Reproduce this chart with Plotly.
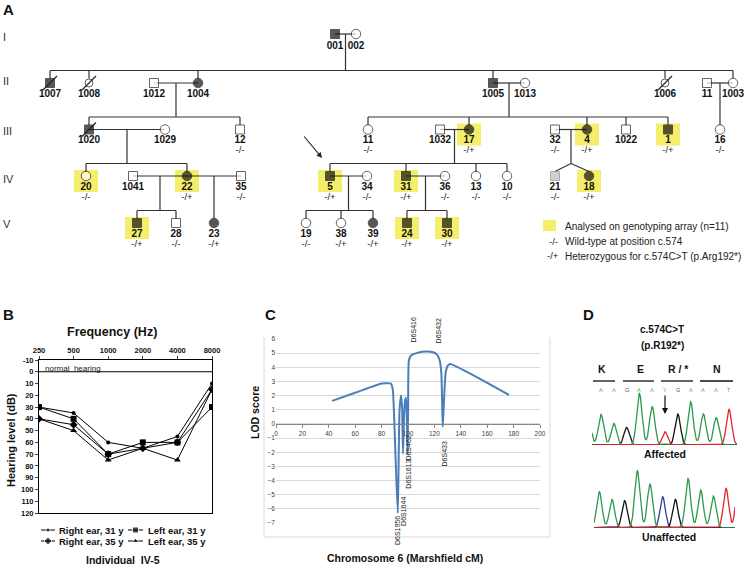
import numpy as np
import plotly.graph_objects as go

W, H = 749, 566
FONT = "Liberation Sans, Arial, sans-serif"

# ================= Panel A : pedigree data =================
ped_key = ["001", "002",
           "1007", "1008", "1012", "1004", "1005", "1013", "1006", "II-11", "1003",
           "1020", "1029", "12", "III-11", "1032", "17", "32", "4", "1022", "1", "16",
           "20", "1041", "22", "35", "5", "34", "31", "36", "13", "10", "21", "18",
           "27", "28", "23", "19", "38", "39", "24", "30"]
ped_label = [k.split("-")[-1] for k in ped_key]
ped_gen = [1] * 2 + [2] * 9 + [3] * 11 + [4] * 12 + [5] * 8
ped_x = [335, 356,
         50, 89, 154, 198, 493, 525, 665, 707, 733,
         89, 165, 240, 368, 440, 469, 555, 587, 626, 668, 720,
         86, 133, 187, 241, 330, 367, 406, 445, 476, 507, 555, 589,
         137, 176, 214, 306, 341, 373, 407, 447]
ped_sex = ["M", "F",
           "M", "F", "M", "F", "M", "F", "F", "M", "F",
           "M", "F", "M", "F", "M", "F", "M", "F", "M", "M", "F",
           "F", "M", "F", "M", "M", "F", "M", "F", "F", "F", "M", "F",
           "M", "M", "F", "F", "F", "F", "M", "M"]
ped_status = ["A", "N",
              "A", "N", "N", "A", "A", "N", "N", "N", "N",
              "A", "N", "N", "N", "N", "A", "N", "A", "N", "A", "N",
              "N", "N", "A", "N", "A", "N", "A", "N", "N", "N", "G", "A",
              "A", "N", "A", "N", "N", "A", "A", "A"]
ped_geno = ["", "",
            "", "", "", "", "", "", "", "", "",
            "", "", "-/-", "-/-", "", "-/+", "-/-", "-/+", "", "-/+", "-/-",
            "-/-", "", "-/+", "-/-", "-/+", "-/-", "-/+", "-/-", "-/-", "-/-", "-/-", "-/+",
            "-/+", "-/-", "-/+", "-/-", "-/+", "-/+", "-/+", "-/+"]
ped_genotyped = ["20", "22", "27", "5", "31", "24", "30", "17", "4", "1", "18"]
ped_deceased = ["1007", "1008", "1020", "1006"]
families = [
    ("001", "002", ["1007", "1008", "1004", "1005", "1006", "1003"], False),
    ("1012", "1004", ["1020", "12"], False),
    ("1005", "1013", ["III-11", "17", "4", "1022", "1"], False),
    ("II-11", "1003", ["16"], False),
    ("1020", "1029", ["20", "22"], False),
    ("1032", "17", ["5", "31", "13", "10"], False),
    ("32", "4", ["21", "18"], True),
    ("1041", "22", ["27", "28"], False),
    ("22", "35", ["23"], False),
    ("5", "34", ["19", "38", "39"], False),
    ("31", "36", ["24", "30"], False),
]
gen_names = ["I", "II", "III", "IV", "V"]

# ================= Panel B : audiogram =================
freq = [250, 500, 1000, 2000, 4000, 8000]
right_31 = [30, 35, 60, 65, 55, 10]
left_31 = [30, 40, 70, 60, 60, 30]
right_35 = [40, 45, 70, 65, 60, 15]
left_35 = [40, 50, 75, 65, 75, 15]
hl_ticks = list(range(-10, 121, 10))

# ================= Panel C : LOD =================
lod_cm = [42.5, 60, 80, 84, 87, 88.5, 89.5, 91, 92.3, 93, 93.6, 94.7, 95.5, 96.2, 97,
          97.7, 98.5, 99.1, 99.6, 100.1, 100.7, 102.5, 107, 114, 119, 122, 124, 125.3,
          126.3, 127.2, 128.5, 130, 131.8, 176.5]
lod_score = [1.63, 2.2, 2.85, 2.88, 2.85, 2.4, 0.5, -3.5, -6.3, -2.0, 1.0, 2.0, 1.2, -2.1, 0.5,
             1.6, 1.85, 0.5, -2.1, 1.0, 4.5, 4.85, 5.02, 5.11, 5.06, 4.9, 4.5, 3.5,
             -0.2, 1.5, 3.6, 4.1, 4.24, 2.05]
marker_names = ["D6S1956", "D6S1644", "D6S1613", "D6S462", "D6S416", "D6S432", "D6S433"]
marker_cm = [91.7, 96.0, 100.2, 100.2, 103.8, 122.7, 127.3]
marker_lod = [-6.4, -5.0, -2.4, -0.7, 5.58, 5.58, -1.13]
marker_side = ["below", "below", "below", "below", "above", "above", "below"]

# ================= Panel D : chromatograms =================
aff_calls = ["A", "A", "G", "A", "A", "Y", "G", "A", "A", "A", "T"]
aff_base = ["A", "A", "G", "A", "A", "T", "G", "A", "A", "A", "T"]
aff_height = [92, 65, 53, 155, 115, 40, 93, 130, 93, 82, 107]
unaff_calls = ["A", "A", "G", "A", "A", "C", "G", "A", "A", "A", "T"]
unaff_height = [108, 85, 81, 171, 131, 93, 85, 148, 113, 95, 118]
aff_edge = [("A", -1.0, 100)]
unaff_edge = [("T", 11.0, 160)]
codons = ["K", "E", "R / *", "N"]

fig = go.Figure()

# ---------- pedigree drawing ----------
gen_y = {1: 34, 2: 83, 3: 129.5, 4: 176, 5: 223}
P = {k: (x, gen_y[g]) for k, x, g in zip(ped_key, ped_x, ped_gen)}
R = 4.5
lx, ly = [], []


def seg(a, b, c, d):
    lx.extend([a, c, None])
    ly.extend([b, d, None])


for fa, mo, kids, twin in families:
    (xf, yf), (xm, ym) = P[fa], P[mo]
    seg(xf, yf, xm, ym)
    xd = (xf + xm) / 2
    cy = P[kids[0]][1]
    sy = cy - 12.5
    if len(kids) == 1:
        seg(xd, yf, xd, cy - R)
    elif twin:
        seg(xd, yf, xd, sy)
        for k in kids:
            seg(xd, sy, P[k][0], cy - R)
    else:
        seg(xd, yf, xd, sy)
        xs_ = [P[k][0] for k in kids] + [xd]
        seg(min(xs_), sy, max(xs_), sy)
        for k in kids:
            seg(P[k][0], sy, P[k][0], cy - R)

shapes = []
for k in ped_genotyped:
    x, y = P[k]
    shapes.append(dict(type="rect", xref="x", yref="y", x0=x - 12, x1=x + 12, y0=y - 6, y1=y + 16,
                       fillcolor="#f4ee6c", line=dict(width=0), layer="below"))

fig.add_trace(go.Scatter(x=lx, y=ly, mode="lines", line=dict(color="#333", width=1.2),
                         hoverinfo="skip", xaxis="x", yaxis="y"))

fillmap = {"A": "#111111", "N": "white", "G": "#bdbdbd"}
linemap = {"A": "#111111", "N": "#222222", "G": "#8a8a8a"}
for sex, sym, size in [("M", "square", 9), ("F", "circle", 9.5)]:
    idx = [i for i in range(len(ped_key)) if ped_sex[i] == sex]
    fig.add_trace(go.Scatter(
        x=[ped_x[i] for i in idx], y=[gen_y[ped_gen[i]] for i in idx], mode="markers",
        marker=dict(symbol=sym, size=[8 if ped_key[i] in ("1008", "1006") else size for i in idx],
                    color=[fillmap[ped_status[i]] for i in idx],
                    line=dict(color=[linemap[ped_status[i]] for i in idx], width=1)),
        hoverinfo="skip", xaxis="x", yaxis="y"))
fig.add_trace(go.Scatter(
    x=[P[k][0] for k in ped_deceased], y=[P[k][1] for k in ped_deceased], mode="markers",
    marker=dict(symbol="line-ne", size=14, line=dict(color="#222", width=1.2)),
    hoverinfo="skip", xaxis="x", yaxis="y"))
# id labels
fig.add_trace(go.Scatter(
    x=ped_x, y=[gen_y[g] + (12.5 if g == 1 else 11) for g in ped_gen], mode="text", text=ped_label,
    textfont=dict(family=FONT, size=10, color="#111"), textposition="middle center",
    texttemplate="<b>%{text}</b>", hoverinfo="skip", xaxis="x", yaxis="y"))
fig.add_trace(go.Scatter(
    x=ped_x, y=[gen_y[g] + 21.5 for g in ped_gen], mode="text", text=ped_geno,
    textfont=dict(family=FONT, size=9.5, color="#222"), textposition="middle center",
    hoverinfo="skip", xaxis="x", yaxis="y"))
fig.add_trace(go.Scatter(
    x=[3] * 5, y=[38, 82, 132, 180, 225], mode="text", text=gen_names,
    textfont=dict(family=FONT, size=11, color="#333"), textposition="middle right",
    hoverinfo="skip", xaxis="x", yaxis="y"))

ann = []


def txt(x, y, s, size=10, bold=False, xanchor="center", color="#111", angle=0, xref="x", yref="y",
        yanchor="middle"):
    ann.append(dict(x=x, y=y, xref=xref, yref=yref, text=f"<b>{s}</b>" if bold else s,
                    showarrow=False, xanchor=xanchor, yanchor=yanchor, textangle=angle,
                    font=dict(family=FONT, size=size, color=color)))


txt(8, 9, "A", 15, True)
txt(8, 314, "B", 15, True)
txt(270, 314, "C", 15, True)
txt(588, 314, "D", 15, True)

# proband arrow
ann.append(dict(x=322, y=158, ax=303, ay=135, xref="x", yref="y", axref="x", ayref="y",
                showarrow=True, arrowhead=2, arrowsize=1, arrowwidth=1.1, arrowcolor="#222", text=""))

# legend for A
shapes.append(dict(type="rect", xref="x", yref="y", x0=543, x1=556, y0=220, y1=231,
                   fillcolor="#f4ee6c", line=dict(width=0)))
txt(563, 226, "Analysed on genotyping array (n=11)", 10, xanchor="left", color="#222")
txt(547, 241, "-/-", 9.5, xanchor="left", color="#222")
txt(563, 241, "Wild-type at position c.574", 10, xanchor="left", color="#222")
txt(545, 255, "-/+", 9.5, xanchor="left", color="#222")
txt(563, 256, "Heterozygous for c.574C>T (p.Arg192*)", 10, xanchor="left", color="#222")

# ---------- Panel B ----------
b_series = [("Right ear, 31 y", right_31, "circle", 4),
            ("Left ear, 31 y", left_31, "square", 6),
            ("Right ear, 35 y", right_35, "diamond", 6),
            ("Left ear, 35 y", left_35, "triangle-up", 6)]
for name, vals, sym, sz in b_series:
    fig.add_trace(go.Scatter(x=freq, y=vals, name=name, mode="lines+markers",
                             line=dict(color="black", width=1),
                             marker=dict(symbol=sym, size=sz, color="black"),
                             xaxis="x2", yaxis="y2", hoverinfo="skip"))
shapes.append(dict(type="line", xref="x2 domain", yref="y2", x0=0, x1=1, y0=0, y1=0,
                   line=dict(color="black", width=1.2)))
txt(43, 368, "normal  hearing", 8, xanchor="left", color="#222")
txt(112, 332, "Frequency (Hz)", 12.5, True)
txt(11, 440, "Hearing level (dB)", 11, True, angle=-90)
txt(123, 560, "Individual  IV-5", 10.5, True)
# manual legend
leg_pos = [(41, 55, 57, 530), (128, 143, 146, 530), (41, 55, 57, 541), (128, 143, 146, 541)]
for (name, vals, sym, sz), (x0, x1, xt, yy) in zip(b_series, leg_pos):
    fig.add_trace(go.Scatter(x=[x0, (x0 + x1) / 2, x1], y=[yy, yy, yy], mode="lines+markers",
                             line=dict(color="black", width=1),
                             marker=dict(symbol=sym, size=[0, sz, 0], color="black"),
                             xaxis="x", yaxis="y", hoverinfo="skip"))
    txt(xt, yy, name, 9.5, True, xanchor="left")

# ---------- Panel C ----------
fig.add_trace(go.Scatter(x=lod_cm, y=lod_score, mode="lines",
                         line=dict(color="#4a7ebb", width=2, shape="spline", smoothing=0.5),
                         xaxis="x3", yaxis="y3", hoverinfo="skip"))
for nm, cm, ld, side in zip(marker_names, marker_cm, marker_lod, marker_side):
    txt(cm, ld, nm, 7, angle=-90, xref="x3", yref="y3", color="#222",
        yanchor="bottom" if side == "above" else "top")
txt(255, 413, "LOD score", 10.5, True, angle=-90)
txt(405, 558, "Chromosome 6 (Marshfield cM)", 10.5, True)
for (a, b, c, d) in [(264, 337, 264, 537), (264, 537, 550, 537), (550, 537, 550, 337)]:
    shapes.append(dict(type="line", xref="x", yref="y", x0=a, y0=b, x1=c, y1=d,
                       line=dict(color="#d9d9d9", width=1)))

# ---------- Panel D ----------
colmap = {"A": "#2a9a4c", "G": "#111111", "C": "#2b3d9e", "T": "#e0262f"}
callcol = {"A": "#5aa878", "G": "#555555", "C": "#5a66b0", "T": "#e05a60", "Y": "#888888"}
sig = 0.21


def chrom(bases, heights, edge, xr, xa, ya):
    xs = np.linspace(xr[0], xr[1], 600)
    pk = [(b, i, h) for i, (b, h) in enumerate(zip(bases, heights))] + list(edge)
    for base in ["C", "G", "A", "T"]:
        y = np.zeros_like(xs)
        for b, p, h in pk:
            if b == base:
                y += h * np.exp(-(xs - p) ** 2 / (2 * sig ** 2))
        fig.add_trace(go.Scatter(x=xs, y=y, mode="lines", line=dict(color=colmap[base], width=1.3),
                                 xaxis=xa, yaxis=ya, hoverinfo="skip"))


aff_range = [-0.70, 10.625]
unaff_range = [-0.42, 10.71]
chrom(aff_base, aff_height, aff_edge, aff_range, "x4", "y4")
chrom(unaff_calls, unaff_height, unaff_edge, unaff_range, "x5", "y5")
for i, c in enumerate(aff_calls):
    txt(i, 165, c, 5.5, xref="x4", yref="y4", color=callcol[c])
for i, c in enumerate(unaff_calls):
    txt(i, 179, c, 5.5, xref="x5", yref="y5", color=callcol[c])

txt(662, 329, "c.574C>T", 10, True)
txt(662, 345, "(p.R192*)", 10, True)
for name, xc in zip(codons, [602, 640, 678, 717]):
    txt(xc, 369, name, 10.5, True)
for a, b in [(593, 615), (623, 654), (661, 693), (700, 733)]:
    shapes.append(dict(type="line", xref="x", yref="y", x0=a, x1=b, y0=381, y1=381,
                       line=dict(color="#111", width=1.3)))
ann.append(dict(x=665, y=414, ax=665, ay=394, xref="x", yref="y", axref="x", ayref="y",
                showarrow=True, arrowhead=2, arrowsize=1, arrowwidth=1.2, arrowcolor="#111", text=""))
txt(665, 454, "Affected", 10.5, True)
txt(669, 537, "Unaffected", 10.5, True)

hidden = dict(visible=False, fixedrange=True)
fig.update_layout(
    width=W, height=H, margin=dict(l=0, r=0, t=0, b=0), template="none",
    paper_bgcolor="white", plot_bgcolor="rgba(0,0,0,0)", showlegend=False,
    font=dict(family=FONT, color="#111"),
    xaxis=dict(domain=[0, 1], range=[0, W], **hidden),
    yaxis=dict(domain=[0, 1], range=[H, 0], **hidden),
    xaxis2=dict(type="log", domain=[39 / W, 212 / W], range=[np.log10(250), np.log10(8000)],
                side="top", anchor="y2", tickvals=freq, ticktext=[f"<b>{f}</b>" for f in freq],
                tickfont=dict(size=7.5, family=FONT, color="#111"), showline=True, linecolor="black",
                linewidth=1, mirror=True, ticks="outside", ticklen=3, showgrid=False, zeroline=False,
                fixedrange=True),
    yaxis2=dict(domain=[1 - 513 / H, 1 - 360 / H], range=[120, -10], anchor="x2", tickvals=hl_ticks,
                ticktext=[f"<b>{t}</b>" for t in hl_ticks], tickfont=dict(size=7.5, family=FONT, color="#111"),
                showline=True, linecolor="black", linewidth=1, mirror=True, ticks="outside", ticklen=3,
                showgrid=False, zeroline=False, fixedrange=True),
    xaxis3=dict(domain=[276 / W, 540 / W], range=[0, 200], anchor="free", position=1 - 424 / H,
                tick0=0, dtick=20, showline=True, linecolor="#868686", linewidth=1, ticks="outside",
                ticklen=3, tickcolor="#868686", tickfont=dict(size=6.5, color="#404040", family=FONT),
                showgrid=False, zeroline=False, fixedrange=True),
    yaxis3=dict(domain=[1 - 523 / H, 1 - 339 / H], range=[-7, 6], anchor="x3", tick0=0, dtick=1,
                showgrid=True, gridcolor="#d9d9d9", gridwidth=1, zeroline=False, showline=False,
                ticks="", tickfont=dict(size=6.5, color="#404040", family=FONT), fixedrange=True),
    xaxis4=dict(domain=[592 / W, 737 / W], range=aff_range, anchor="y4", **hidden),
    yaxis4=dict(domain=[1 - 445 / H, 1 - (445 - 175 / 3) / H], range=[0, 175], anchor="x4", **hidden),
    xaxis5=dict(domain=[594 / W, 735 / W], range=unaff_range, anchor="y5", **hidden),
    yaxis5=dict(domain=[1 - 527.7 / H, 1 - (527.7 - 175 / 3) / H], range=[0, 175], anchor="x5", **hidden),
    shapes=shapes, annotations=ann,
)
fig.write_html("out.html", config={"displayModeBar": False},
               post_script="document.body.style.margin='0';document.body.style.overflow='hidden';")
